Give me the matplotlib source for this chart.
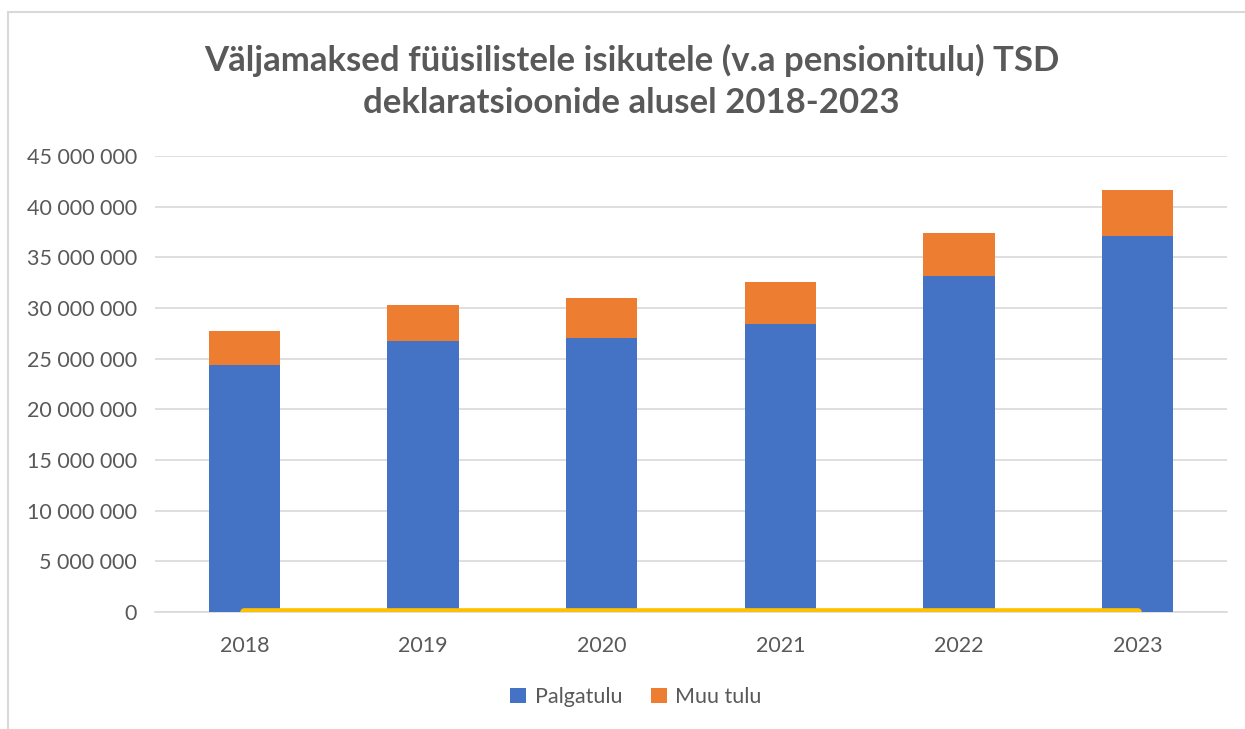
import matplotlib
matplotlib.use("Agg")
import matplotlib.pyplot as plt
from matplotlib.patches import Rectangle
import numpy as np

years = ["2018", "2019", "2020", "2021", "2022", "2023"]
palgatulu = [24.4e6, 26.75e6, 27.05e6, 28.45e6, 33.15e6, 37.1e6]
totals = [27.75e6, 30.3e6, 31.0e6, 32.55e6, 37.4e6, 41.65e6]
muu_tulu = [t - p for t, p in zip(totals, palgatulu)]
line_zero = [0, 0, 0, 0, 0, 0]
yticks = list(range(0, 45000001, 5000000))

plt.rcParams['font.family'] = ['Lato', 'DejaVu Sans']
gray = "#595959"

fig = plt.figure(figsize=(12.45, 7.29), dpi=100)
fig.patches.append(Rectangle((8/1245, -0.01), 1.1, 1 - 12/729 + 0.01, transform=fig.transFigure,
                             fill=False, edgecolor="#D9D9D9", linewidth=1.5))
ax = fig.add_axes([155/1245, 1 - 612/729, (1227 - 155)/1245, (612 - 156)/729])

x = np.arange(len(years))
ax.bar(x, palgatulu, width=0.4, color="#4472C4", label="Palgatulu", zorder=3)
ax.bar(x, muu_tulu, width=0.4, bottom=palgatulu, color="#ED7D31", label="Muu tulu", zorder=3)
ax.plot(x, line_zero, color="#FFC000", linewidth=5.5, solid_capstyle="round", zorder=4)

ax.set_xlim(-0.5, len(years) - 0.5)
ax.set_ylim(0, 45e6)
ax.set_yticks(yticks)
ax.set_yticklabels([f"{v:,}".replace(",", " ") for v in yticks])
ax.set_xticks(x)
ax.set_xticklabels(years)
ax.grid(axis="y", color="#D9D9D9", linewidth=1.2, zorder=0)
for s in ["top", "right", "left"]:
    ax.spines[s].set_visible(False)
ax.spines["bottom"].set_color("#D9D9D9")
ax.spines["bottom"].set_linewidth(1.2)
ax.tick_params(axis="both", length=0, labelsize=15.5, colors=gray)
ax.tick_params(axis="y", pad=13)
ax.tick_params(axis="x", pad=17)

fig.text(631.5/1245, 1 - 81/729, "Väljamaksed füüsilistele isikutele (v.a pensionitulu) TSD\ndeklaratsioonide alusel 2018-2023",
         ha="center", va="center", fontsize=25, fontweight="bold", color=gray, linespacing=1.38)

fig.legend(loc="center", bbox_to_anchor=(636/1245, 1 - 697/729), ncol=2, frameon=False,
           fontsize=15.5, labelcolor=gray, handlelength=0.75, handleheight=0.75, columnspacing=1.3,
           handletextpad=0.4)

fig.savefig("out.png", dpi=100)
